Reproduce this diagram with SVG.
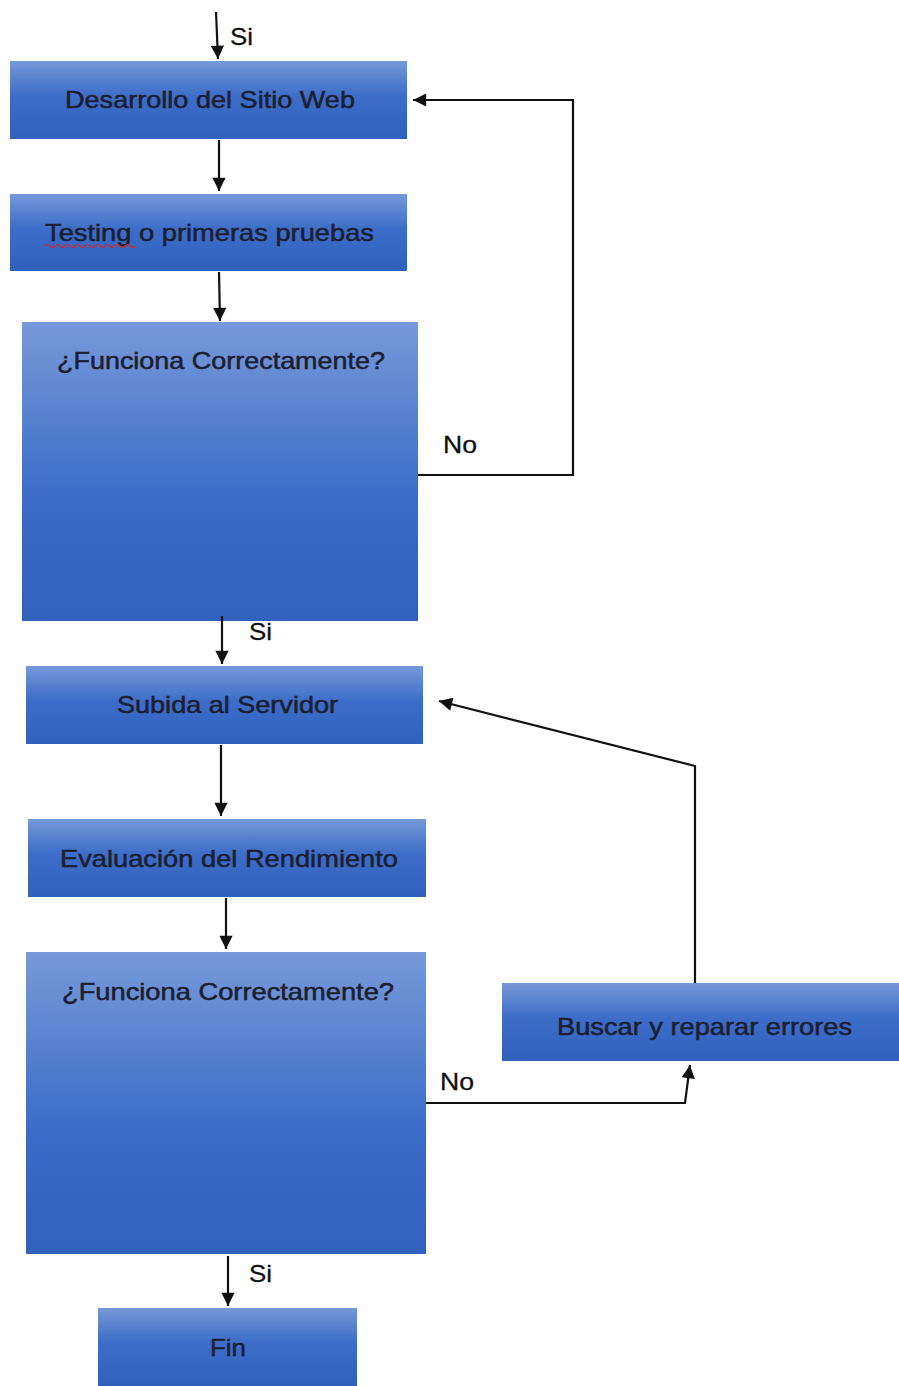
<svg xmlns="http://www.w3.org/2000/svg" width="899" height="1386" viewBox="0 0 899 1386">
<style>
.box{fill:url(#g);}
.tall{fill:url(#gt);}
.t{font-family:"Liberation Sans",Arial,sans-serif;font-size:24px;fill:#1b2030;stroke:#1b2030;stroke-width:0.5;}
.lbl{font-family:"Liberation Sans",Arial,sans-serif;font-size:24px;fill:#111;stroke:#111;stroke-width:0.3;}
.c{fill:none;stroke:#111;stroke-width:2.2;}
</style>
<defs>
<linearGradient id="g" x1="0" y1="0" x2="0" y2="1">
<stop offset="0" stop-color="#7598d8"/>
<stop offset="0.45" stop-color="#3d6dc8"/>
<stop offset="1" stop-color="#2f61bd"/>
</linearGradient>
<linearGradient id="gt" x1="0" y1="0" x2="0" y2="1">
<stop offset="0" stop-color="#7699d9"/>
<stop offset="0.25" stop-color="#5e86d1"/>
<stop offset="0.6" stop-color="#3a6bc8"/>
<stop offset="1" stop-color="#2f61bd"/>
</linearGradient>
<marker id="a" viewBox="0 0 10 10" refX="10" refY="5" markerWidth="6.5" markerHeight="6" orient="auto" markerUnits="strokeWidth">
<path d="M0,0 L10,5 L0,10 z" fill="#111"/>
</marker>
</defs>
<rect width="899" height="1386" fill="#fff"/>
<g id="n1"><rect class="box" x="10" y="61" width="397" height="78"/><text class="t" x="210" y="108" text-anchor="middle" textLength="290" lengthAdjust="spacingAndGlyphs">Desarrollo del Sitio Web</text></g>
<g id="n2"><rect class="box" x="10" y="194" width="397" height="77"/><text class="t" x="209.5" y="241" text-anchor="middle" textLength="329" lengthAdjust="spacingAndGlyphs">Testing o primeras pruebas</text><path d="M45,246 q2.5,-3 5,0 t5,0 t5,0 t5,0 t5,0 t5,0 t5,0 t5,0 t5,0 t5,0 t5,0 t5,0 t5,0 t5,0 t5,0 t5,0 t5,0 t5,0" fill="none" stroke="#e02020" stroke-width="1.2"/></g>
<g id="n3"><rect class="tall" x="22" y="322" width="396" height="299"/><text class="t" x="221" y="369" text-anchor="middle" textLength="328" lengthAdjust="spacingAndGlyphs">¿Funciona Correctamente?</text></g>
<g id="n4"><rect class="box" x="26" y="666" width="397" height="78"/><text class="t" x="227.5" y="713" text-anchor="middle" textLength="221" lengthAdjust="spacingAndGlyphs">Subida al Servidor</text></g>
<g id="n5"><rect class="box" x="28" y="819" width="398" height="78"/><text class="t" x="229" y="867" text-anchor="middle" textLength="338" lengthAdjust="spacingAndGlyphs">Evaluación del Rendimiento</text></g>
<g id="n6"><rect class="tall" x="26" y="952" width="400" height="302"/><text class="t" x="228" y="1000" text-anchor="middle" textLength="332" lengthAdjust="spacingAndGlyphs">¿Funciona Correctamente?</text></g>
<g id="n7"><rect class="box" x="502" y="983" width="397" height="78"/><text class="t" x="704.5" y="1035" text-anchor="middle" textLength="295" lengthAdjust="spacingAndGlyphs">Buscar y reparar errores</text></g>
<g id="n8"><rect class="box" x="98" y="1308" width="259" height="78"/><text class="t" x="228" y="1356" text-anchor="middle" textLength="36" lengthAdjust="spacingAndGlyphs">Fin</text></g>
<g id="connectors">
<path class="c" d="M216,12 L218,59" marker-end="url(#a)"/>
<path class="c" d="M219,140 L219,191" marker-end="url(#a)"/>
<path class="c" d="M219,272 L220,321" marker-end="url(#a)"/>
<path class="c" d="M418,475 L573,475 L573,100 L413,100" marker-end="url(#a)"/>
<path class="c" d="M222,616 L222,664" marker-end="url(#a)"/>
<path class="c" d="M221,745 L221,816" marker-end="url(#a)"/>
<path class="c" d="M226,898 L226,949" marker-end="url(#a)"/>
<path class="c" d="M426,1103 L685,1103 L690,1065" marker-end="url(#a)"/>
<path class="c" d="M695,983 L695,766 L439,701" marker-end="url(#a)"/>
<path class="c" d="M228,1256 L228,1306" marker-end="url(#a)"/>
<text class="lbl" x="230" y="45" textLength="23" lengthAdjust="spacingAndGlyphs">Si</text>
<text class="lbl" x="443" y="453" textLength="34" lengthAdjust="spacingAndGlyphs">No</text>
<text class="lbl" x="249" y="640" textLength="23" lengthAdjust="spacingAndGlyphs">Si</text>
<text class="lbl" x="440" y="1090" textLength="34" lengthAdjust="spacingAndGlyphs">No</text>
<text class="lbl" x="249" y="1282" textLength="23" lengthAdjust="spacingAndGlyphs">Si</text>
</g>
</svg>
